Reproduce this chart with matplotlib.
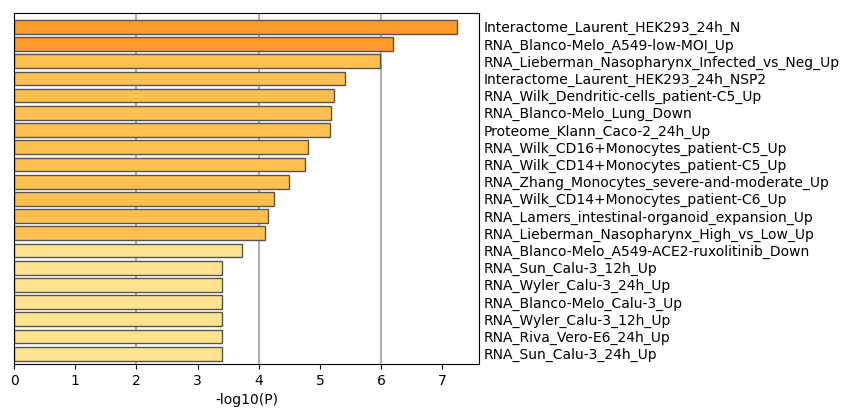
import matplotlib.pyplot as plt
import numpy as np

labels = ['Interactome_Laurent_HEK293_24h_N', 'RNA_Blanco-Melo_A549-low-MOI_Up',
          'RNA_Lieberman_Nasopharynx_Infected_vs_Neg_Up', 'Interactome_Laurent_HEK293_24h_NSP2',
          'RNA_Wilk_Dendritic-cells_patient-C5_Up', 'RNA_Blanco-Melo_Lung_Down',
          'Proteome_Klann_Caco-2_24h_Up', 'RNA_Wilk_CD16+Monocytes_patient-C5_Up',
          'RNA_Wilk_CD14+Monocytes_patient-C5_Up', 'RNA_Zhang_Monocytes_severe-and-moderate_Up',
          'RNA_Wilk_CD14+Monocytes_patient-C6_Up', 'RNA_Lamers_intestinal-organoid_expansion_Up',
          'RNA_Lieberman_Nasopharynx_High_vs_Low_Up', 'RNA_Blanco-Melo_A549-ACE2-ruxolitinib_Down',
          'RNA_Sun_Calu-3_12h_Up', 'RNA_Wyler_Calu-3_24h_Up', 'RNA_Blanco-Melo_Calu-3_Up',
          'RNA_Wyler_Calu-3_12h_Up', 'RNA_Riva_Vero-E6_24h_Up', 'RNA_Sun_Calu-3_24h_Up']
values = [7.24, 6.20, 5.98, 5.41, 5.23, 5.18, 5.16, 4.80, 4.75, 4.49,
          4.25, 4.15, 4.10, 3.73, 3.40, 3.40, 3.40, 3.40, 3.40, 3.40]
colors = ['#FF9A2E'] * 2 + ['#FFC04F'] * 11 + ['#FFE38E'] * 7

fig = plt.figure(figsize=(8.5, 4.17), dpi=100)
ax = fig.add_axes([14/850, 1 - 364/417, 465/850, 351/417])
y = np.arange(len(values))
ax.barh(y, values, color=colors, edgecolor='#555555', linewidth=1, height=0.8, zorder=2)
ax.set_ylim(len(values) - 0.4, -0.8)
ax.set_xlim(0, 7.6)
ax.set_yticks(y)
ax.set_yticklabels(labels)
ax.yaxis.tick_right()
ax.tick_params(axis='y', length=0)
ax.set_xticks(range(8))
for g in [2, 4, 6]:
    ax.axvline(g, color='#b0b0b0', linewidth=1.5, zorder=1)
ax.set_xlabel('-log10(P)')
fig.savefig('out.png', dpi=100)
